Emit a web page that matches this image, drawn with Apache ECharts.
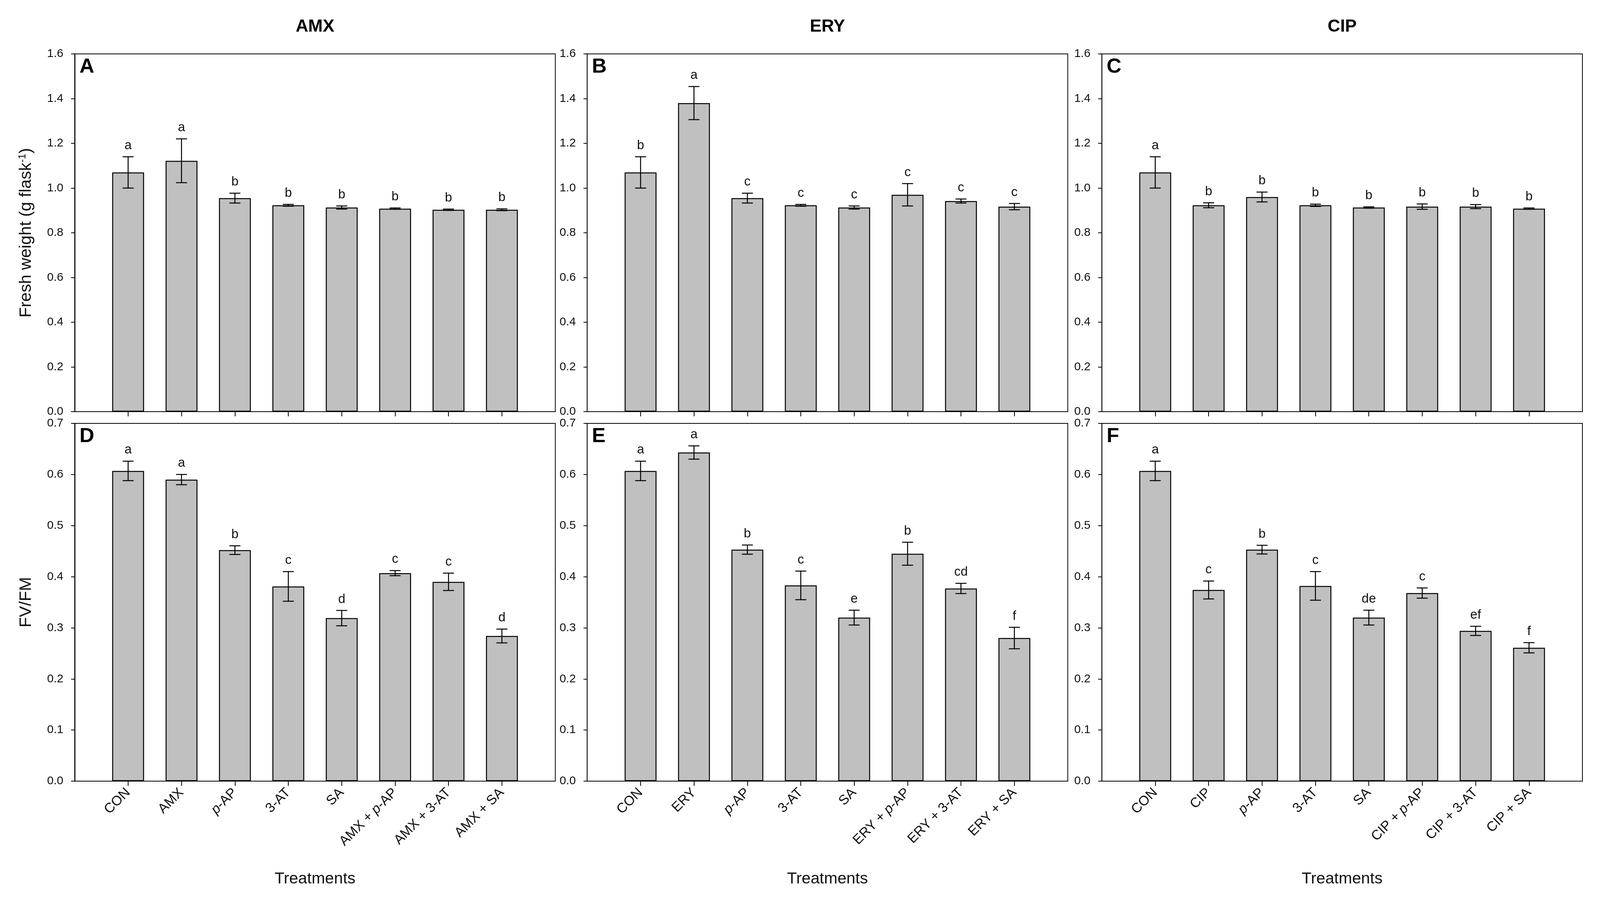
<!DOCTYPE html>
<html><head><meta charset="utf-8">
<script src="https://cdn.jsdelivr.net/npm/echarts@6/dist/echarts.min.js"></script>
<style>html,body{margin:0;padding:0;background:#fff;overflow:hidden}#c{width:100vw;height:100vh}</style>
</head><body><div id="c"></div>
<script>
// ---- data ----
const catsAMX = ['CON','AMX','p-AP','3-AT','SA','AMX + p-AP','AMX + 3-AT','AMX + SA'];
const catsERY = ['CON','ERY','p-AP','3-AT','SA','ERY + p-AP','ERY + 3-AT','ERY + SA'];
const catsCIP = ['CON','CIP','p-AP','3-AT','SA','CIP + p-AP','CIP + 3-AT','CIP + SA'];

const fwAMX    = [1.070, 1.122, 0.955, 0.923, 0.913, 0.908, 0.903, 0.903];
const fwErrAMX = [0.070, 0.098, 0.022, 0.004, 0.007, 0.003, 0.003, 0.004];
const fwLetAMX = ['a','a','b','b','b','b','b','b'];

const fwERY    = [1.070, 1.380, 0.955, 0.923, 0.913, 0.970, 0.942, 0.917];
const fwErrERY = [0.070, 0.074, 0.022, 0.004, 0.007, 0.050, 0.009, 0.014];
const fwLetERY = ['b','a','c','c','c','c','c','c'];

const fwCIP    = [1.070, 0.923, 0.960, 0.923, 0.913, 0.917, 0.917, 0.908];
const fwErrCIP = [0.070, 0.011, 0.022, 0.005, 0.003, 0.012, 0.009, 0.003];
const fwLetCIP = ['a','b','b','b','b','b','b','b'];

const fvAMX    = [0.607, 0.590, 0.452, 0.381, 0.319, 0.407, 0.390, 0.284];
const fvErrAMX = [0.019, 0.010, 0.0085, 0.029, 0.015, 0.005, 0.017, 0.0135];
const fvLetAMX = ['a','a','b','c','d','c','c','d'];

const fvERY    = [0.607, 0.643, 0.453, 0.383, 0.320, 0.445, 0.377, 0.280];
const fvErrERY = [0.019, 0.013, 0.009, 0.028, 0.0145, 0.0225, 0.010, 0.021];
const fvLetERY = ['a','a','b','c','e','b','cd','f'];

const fvCIP    = [0.607, 0.374, 0.453, 0.382, 0.320, 0.368, 0.294, 0.261];
const fvErrCIP = [0.019, 0.0175, 0.0085, 0.028, 0.0145, 0.010, 0.009, 0.010];
const fvLetCIP = ['a','c','b','c','de','c','ef','f'];

const colTitles = ['AMX','ERY','CIP'];
const panelLetters = ['A','B','C','D','E','F'];
const fwTickMax = 1.6, fwTickStep = 0.2;
const fvTickMax = 0.7, fvTickStep = 0.1;

// ---- layout (designed for 4368 x 2312, scaled to the actual viewport) ----
const FONT = 'Liberation Sans, Arial, sans-serif';
const dom = document.getElementById('c');
const VW = dom.clientWidth || window.innerWidth, VH = dom.clientHeight || window.innerHeight;
const sx = VW / 4368, sy = VH / 2312;
const X = (v) => v * sx, Y = (v) => v * sy;
const Fh = (v) => v * sx, Fv = (v) => v * sy, Fd = (v) => v * (sx + sy) / 2;

const colLeft = [204, 1603, 3008];
const colWidth = 1312;
const rowTop = [138, 1084];
const rowHeight = 916;

const panels = [
  {cats: catsAMX, v: fwAMX, e: fwErrAMX, l: fwLetAMX, row: 0, col: 0},
  {cats: catsERY, v: fwERY, e: fwErrERY, l: fwLetERY, row: 0, col: 1},
  {cats: catsCIP, v: fwCIP, e: fwErrCIP, l: fwLetCIP, row: 0, col: 2},
  {cats: catsAMX, v: fvAMX, e: fvErrAMX, l: fvLetAMX, row: 1, col: 0},
  {cats: catsERY, v: fvERY, e: fvErrERY, l: fvLetERY, row: 1, col: 1},
  {cats: catsCIP, v: fvCIP, e: fvErrCIP, l: fvLetCIP, row: 1, col: 2}
];

const grid = [], xAxis = [], yAxis = [], series = [], graphic = [];
const positions = [1,2,3,4,5,6,7,8];

panels.forEach((p, k) => {
  const left = colLeft[p.col], top = rowTop[p.row];
  grid.push({left: X(left), top: Y(top), width: X(colWidth), height: Y(rowHeight),
    show: true, borderColor: '#000', borderWidth: 2, backgroundColor: 'transparent'});
  const isBottom = p.row === 1;
  xAxis.push({
    type: 'value', gridIndex: k, min: 0, max: 9, interval: 1,
    axisLine: {show: true, onZero: false, lineStyle: {color: '#000', width: 2}},
    axisTick: {show: true, inside: false, length: Y(12), customValues: positions, lineStyle: {color: '#000', width: 2}},
    axisLabel: {show: isBottom, customValues: positions, rotate: 45, margin: Y(24),
      fontSize: Fd(36), color: '#111', fontFamily: FONT,
      formatter: (val) => { const s = p.cats[Math.round(val) - 1] || ''; return s.replace('p-AP', '{i|p}-AP'); },
      rich: {i: {fontStyle: 'italic', fontSize: Fd(36), color: '#111', fontFamily: FONT}}},
    splitLine: {show: false},
    name: isBottom ? 'Treatments' : '',
    nameLocation: 'middle', nameGap: Y(230),
    nameTextStyle: {fontSize: Fh(44), color: '#111', fontFamily: FONT}
  });
  const mx = isBottom ? fvTickMax : fwTickMax, st = isBottom ? fvTickStep : fwTickStep;
  let yname = '';
  if (p.col === 0) yname = isBottom ? 'FV/FM' : 'Fresh weight (g flask{sup|-1})';
  yAxis.push({
    type: 'value', gridIndex: k, min: 0, max: mx, interval: st,
    axisLine: {show: true, lineStyle: {color: '#000', width: 2}},
    axisTick: {show: true, inside: false, length: X(10), lineStyle: {color: '#000', width: 2}},
    axisLabel: {fontSize: Fh(32), color: '#111', fontFamily: FONT, margin: X(31),
      formatter: (val) => val.toFixed(1)},
    splitLine: {show: false},
    name: yname, nameLocation: 'middle', nameGap: X(110),
    nameTextStyle: {fontSize: Fv(43), color: '#111', fontFamily: FONT,
      rich: {sup: {fontSize: Fv(26), verticalAlign: 'top', color: '#111', fontFamily: FONT}}}
  });
  series.push({
    type: 'bar', xAxisIndex: k, yAxisIndex: k, barWidth: X(87),
    data: p.v.map((v, i) => [i + 1, v]),
    itemStyle: {color: '#c0c0c0', borderColor: '#000', borderWidth: 2.5},
    silent: true, animation: false, z: 2
  });
  series.push({
    type: 'custom', xAxisIndex: k, yAxisIndex: k, z: 5, animation: false, silent: true,
    data: p.v.map((v, i) => [i + 1, v, p.e[i]]),
    renderItem: (params, api) => {
      const x = api.value(0), v = api.value(1), e = api.value(2);
      const t = api.coord([x, v + e]), b = api.coord([x, v - e]);
      const cap = X(15), ls = {stroke: '#000', lineWidth: 2.5};
      return {type: 'group', children: [
        {type: 'line', shape: {x1: t[0], y1: t[1], x2: b[0], y2: b[1]}, style: ls},
        {type: 'line', shape: {x1: t[0] - cap, y1: t[1], x2: t[0] + cap, y2: t[1]}, style: ls},
        {type: 'line', shape: {x1: b[0] - cap, y1: b[1], x2: b[0] + cap, y2: b[1]}, style: ls},
        {type: 'text', x: t[0], y: t[1] - Y(12), style: {text: p.l[params.dataIndex], fontSize: Fd(34),
          fill: '#111', align: 'center', verticalAlign: 'bottom', fontFamily: FONT}}
      ]};
    }
  });
  graphic.push({type: 'text', left: X(left + 13), top: Y(top + 8), z: 10,
    style: {text: panelLetters[k], fontSize: Fd(54), fontWeight: 'bold', fill: '#000', fontFamily: FONT}});
});

colTitles.forEach((t, c) => {
  graphic.push({type: 'text', x: X(colLeft[c] + colWidth / 2), y: Y(69), z: 10,
    style: {text: t, fontSize: Fd(46), fontWeight: 'bold', fill: '#000', fontFamily: FONT,
      align: 'center', verticalAlign: 'middle'}});
});

const chart = echarts.init(dom, null, {renderer: 'canvas'});
chart.setOption({animation: false, backgroundColor: '#fff', grid, xAxis, yAxis, series, graphic});
</script></body></html>
